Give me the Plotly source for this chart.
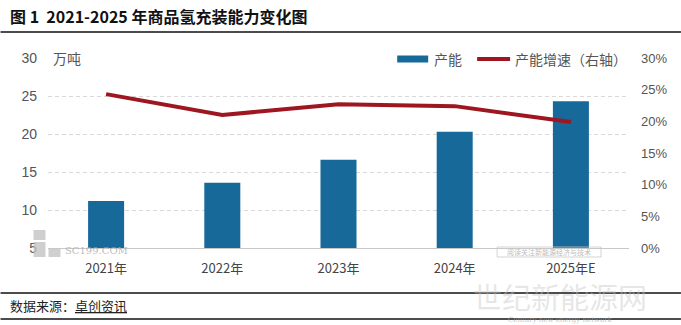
import plotly.graph_objects as go

# Capacity of merchant hydrogen filling, 2021-2025E
years = ["2021年", "2022年", "2023年", "2024年", "2025年E"]
capacity = [11.2, 13.6, 16.6, 20.3, 24.3]          # 万吨
growth = [0.243, 0.210, 0.227, 0.224, 0.199]        # growth rate (right axis)

left_ticks = [5, 10, 15, 20, 25, 30]
right_ticks = [0, 0.05, 0.10, 0.15, 0.20, 0.25, 0.30]

W, H = 681, 325
L, R, T, B = 47.5, 52, 58, 77
pw, ph = W - L - R, H - T - B

BLUE = "#17699a"
RED = "#9e1620"
CJK = "Noto Sans CJK SC"


def px(x):
    return (x - L) / pw


def py(y):
    return (H - B - y) / ph


fig = go.Figure()
fig.add_trace(go.Bar(
    x=years, y=capacity, yaxis="y", width=0.31,
    marker=dict(color=BLUE, line=dict(width=0)), showlegend=False,
))
fig.add_trace(go.Scatter(
    x=years, y=growth, yaxis="y2", mode="lines",
    line=dict(color=RED, width=4), showlegend=False,
))

shapes = [
    # rules above/below title and source
    dict(type="line", xref="paper", yref="paper", x0=px(0), x1=px(W), y0=py(32), y1=py(32),
         line=dict(color="#111", width=1.5)),
    dict(type="line", xref="paper", yref="paper", x0=px(0), x1=px(W), y0=py(293), y1=py(293),
         line=dict(color="#111", width=1.5)),
    dict(type="line", xref="paper", yref="paper", x0=px(0), x1=px(W), y0=py(319), y1=py(319),
         line=dict(color="#111", width=1.5)),
    # legend swatches
    dict(type="rect", xref="paper", yref="paper", x0=px(397), x1=px(428), y0=py(62.5), y1=py(55.5),
         fillcolor=BLUE, line=dict(width=0)),
    dict(type="line", xref="paper", yref="paper", x0=px(477), x1=px(510), y0=py(59), y1=py(59),
         line=dict(color=RED, width=4)),
    # small grey blocks of the site mark
    dict(type="rect", xref="paper", yref="paper", x0=px(33), x1=px(45), y0=py(240), y1=py(230),
         fillcolor="rgba(195,195,195,0.8)", line=dict(width=0)),
    dict(type="rect", xref="paper", yref="paper", x0=px(33), x1=px(45), y0=py(257), y1=py(242),
         fillcolor="rgba(195,195,195,0.8)", line=dict(width=0)),
    dict(type="rect", xref="paper", yref="paper", x0=px(48), x1=px(60), y0=py(257), y1=py(249),
         fillcolor="rgba(195,195,195,0.8)", line=dict(width=0)),
    dict(type="rect", xref="paper", yref="paper", x0=px(497), x1=px(601), y0=py(257), y1=py(247),
         fillcolor="rgba(0,0,0,0)", line=dict(color="rgba(200,200,200,0.8)", width=1)),
]

annotations = [
    dict(text="<b>图 1  2021-2025 年商品氢充装能力变化图</b>", xref="paper", yref="paper",
         x=px(7), y=py(16), xanchor="left", yanchor="middle", showarrow=False,
         font=dict(family=CJK, size=16, color="#111")),
    dict(text="数据来源：<u>卓创资讯</u>", xref="paper", yref="paper",
         x=px(7), y=py(305), xanchor="left", yanchor="middle", showarrow=False,
         font=dict(family=CJK, size=13, color="#222")),
    dict(text="万吨", xref="paper", yref="paper",
         x=px(51), y=py(58), xanchor="left", yanchor="middle", showarrow=False,
         font=dict(family=CJK, size=14, color="#555")),
    dict(text="产能", xref="paper", yref="paper",
         x=px(432), y=py(59), xanchor="left", yanchor="middle", showarrow=False,
         font=dict(family=CJK, size=14, color="#555")),
    dict(text="产能增速（右轴）", xref="paper", yref="paper",
         x=px(513), y=py(59), xanchor="left", yanchor="middle", showarrow=False,
         font=dict(family=CJK, size=14, color="#555")),
    # site marks
    dict(text="SC199.COM", xref="paper", yref="paper",
         x=px(63), y=py(250.5), xanchor="left", yanchor="middle", showarrow=False,
         font=dict(family="DejaVu Serif", size=10, color="rgba(170,170,170,0.8)")),
    dict(text="阅读关注新能源经济与技术", xref="paper", yref="paper",
         x=px(549), y=py(252), xanchor="center", yanchor="middle", showarrow=False,
         font=dict(family=CJK, size=7, color="rgba(170,170,170,0.8)")),
    dict(text="世纪新能源网", xref="paper", yref="paper",
         x=px(560), y=py(296), xanchor="center", yanchor="middle", showarrow=False,
         font=dict(family=CJK, size=29, color="rgba(200,200,200,0.45)")),
    dict(text="Century new energy network", xref="paper", yref="paper",
         x=px(560), y=py(320), xanchor="center", yanchor="middle", showarrow=False,
         font=dict(family="DejaVu Serif", size=7, color="rgba(170,170,170,0.7)")),
]

fig.update_layout(
    width=W, height=H,
    margin=dict(l=L, r=R, t=T, b=B, pad=0),
    paper_bgcolor="white", plot_bgcolor="white",
    xaxis=dict(
        type="category", showgrid=False, ticks="", showline=True,
        linecolor="#c8c8c8", linewidth=1, ticklabelstandoff=8,
        tickfont=dict(family=CJK, size=13, color="#444"),
    ),
    yaxis=dict(
        range=[5, 30], tickvals=left_ticks, showgrid=True,
        gridcolor="#d9d9d9", griddash="4px,3px", gridwidth=1,
        zeroline=False, showline=False, ticks="", ticklabelstandoff=10,
        tickfont=dict(family="Liberation Sans", size=14, color="#555"),
    ),
    yaxis2=dict(
        range=[0, 0.30], tickvals=right_ticks, tickformat=".0%",
        overlaying="y", side="right", showgrid=False, zeroline=False,
        showline=False, ticks="", ticklabelstandoff=11,
        tickfont=dict(family="Liberation Sans", size=13, color="#555"),
    ),
    shapes=shapes,
    annotations=annotations,
)

fig.write_html("out.html")
